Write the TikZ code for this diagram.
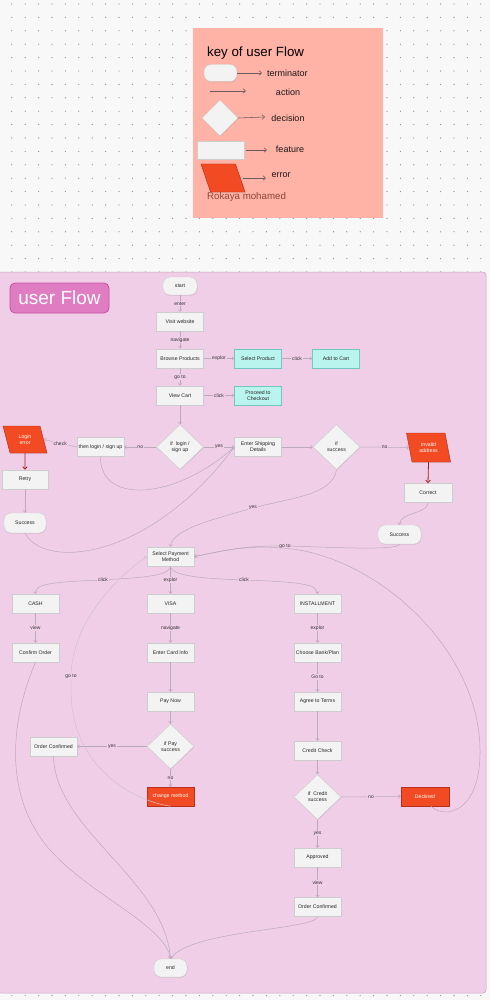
\documentclass[tikz,border=0pt]{standalone}
\usepackage{fontspec}
\setmainfont{Liberation Sans}
\usetikzlibrary{shapes.geometric,arrows.meta,shadows}
\definecolor{bgtop}{HTML}{F8F8F8}
\definecolor{dotcol}{HTML}{909090}
\definecolor{pinkbg}{HTML}{F0CEE8}
\definecolor{pinkborder}{HTML}{C9A2C0}
\definecolor{salmon}{HTML}{FFB2A5}
\definecolor{titlefill}{HTML}{E07CC2}
\definecolor{titleborder}{HTML}{C4509E}
\definecolor{nodefill}{HTML}{F3F3F3}
\definecolor{nodeborder}{HTML}{CDCDCD}
\definecolor{cyanfill}{HTML}{BAF4EF}
\definecolor{cyanborder}{HTML}{72C8C0}
\definecolor{errfill}{HTML}{F24A22}
\definecolor{errborder}{HTML}{B8301A}
\definecolor{conncol}{HTML}{BBAABA}
\definecolor{redarrow}{HTML}{A3221A}
\definecolor{keyarrow}{HTML}{6E5A5A}
\definecolor{authorcol}{HTML}{8E4438}
\begin{document}
\begin{tikzpicture}[x=1pt,y=-1pt,
  base/.style={draw=nodeborder, fill=nodefill, line width=0.45pt,
    font=\fontsize{5.2}{6.2}\selectfont, text=black!85, align=center, inner sep=1pt,
    drop shadow={shadow xshift=0.4pt, shadow yshift=-0.6pt, opacity=0.12, fill=black}},
  featbox/.style={base, rectangle, minimum width=47pt, minimum height=19pt},
  cyanbox/.style={featbox, fill=cyanfill, draw=cyanborder},
  termbox/.style={base, rectangle, rounded corners=7pt, minimum width=34pt, minimum height=18pt},
  decbox/.style={base, diamond, aspect=1, minimum width=47pt, minimum height=45pt},
  errbox/.style={featbox, fill=errfill, draw=errborder, text=white},
  parabox/.style={base, fill=errfill, draw=errborder, text=white, trapezium,
    trapezium stretches=true, trapezium left angle=106, trapezium right angle=74,
    minimum width=44pt, minimum height=28pt},
  conn/.style={draw=conncol, line width=0.5pt, -{Straight Barb[length=2pt,width=3.6pt]}},
  lbl/.style={fill=pinkbg, inner sep=0.8pt, font=\fontsize{5}{6}\selectfont, text=black!80},
  redarr/.style={draw=redarrow, line width=0.8pt, -{Straight Barb[length=2.6pt,width=4.6pt]}},
  keyarr/.style={draw=keyarrow, line width=0.55pt, -{Straight Barb[length=2.6pt,width=4.6pt]}},
  keytxt/.style={font=\fontsize{9}{10.5}\selectfont, text=black!90, inner sep=0pt}
]
\useasboundingbox (0,0) rectangle (490,1000);
\fill[bgtop] (0,0) rectangle (490,1000);
\foreach \i in {0,...,35} \foreach \j in {0,...,74}
  \fill[dotcol] (11.8+13.4*\i, 4+13.4*\j) circle (0.65);

% ---------- key ----------
\fill[salmon] (193,28) rectangle (383,218);
\node[anchor=west, inner sep=0pt, font=\fontsize{13.3}{15}\selectfont] (ktitle) at (207,53) {key of user Flow};
\node[base, rectangle, rounded corners=7pt, minimum width=33pt, minimum height=17pt] (kterm) at (220.5,73) {};
\coordinate (kterm2) at (262,73);
\draw[keyarr] (kterm.east) -- (kterm2);
\node[keytxt, anchor=west] (ktermt) at (267,73) {terminator};
\coordinate (kact1) at (210,91);
\coordinate (kact2) at (246,91);
\draw[keyarr] (kact1) -- (kact2);
\node[keytxt] (kactt) at (288,92) {action};
\node[base, diamond, aspect=1, minimum width=36pt, minimum height=36pt] (kdec) at (220,118) {};
\coordinate (kdec2) at (265,117);
\draw[keyarr] (kdec.east) -- (kdec2);
\node[keytxt] (kdect) at (288,118) {decision};
\node[base, rectangle, minimum width=47pt, minimum height=18pt] (kfeat) at (220.5,150) {};
\coordinate (kfeat1) at (246,150);
\coordinate (kfeat2) at (267,150);
\draw[keyarr] (kfeat1) -- (kfeat2);
\node[keytxt] (kfeatt) at (290,149) {feature};
\node[parabox, trapezium left angle=111, trapezium right angle=69, minimum width=44pt, minimum height=28pt] (kerr) at (223,178) {};
\coordinate (kerr1) at (243,178);
\coordinate (kerr2) at (266,178);
\draw[keyarr] (kerr1) -- (kerr2);
\node[keytxt] (kerrt) at (281,175) {error};
\node[anchor=west, inner sep=0pt, text=authorcol, font=\fontsize{9.7}{11}\selectfont] (author) at (207,197) {Rokaya mohamed};

% ---------- panel ----------
\filldraw[fill=pinkbg, draw=pinkborder, line width=0.5pt, rounded corners=3pt] (-2,272) rectangle (486,993);
\node[draw=titleborder, fill=titlefill, line width=0.8pt, rounded corners=5pt, minimum width=99pt, minimum height=30pt,
  text=white, font=\fontsize{19}{22}\selectfont, inner sep=0pt] (title) at (59.5,298) {user Flow};

% ---------- nodes ----------
\node[termbox] (start) at (180,286) {start};
\node[featbox] (visit) at (180,321.5) {Visit website};
\node[featbox] (browse) at (180,358.5) {Browse Products};
\node[cyanbox] (select) at (258,358.5) {Select Product};
\node[cyanbox] (addcart) at (336,358.5) {Add to Cart};
\node[featbox] (viewcart) at (180,395.5) {View Cart};
\node[cyanbox] (proceed) at (258,395.5) {Proceed to\\Checkout};
\node[decbox] (iflogin) at (180,447) {if\ \ login /\\sign up};
\node[featbox] (thenlogin) at (100.5,447) {then login / sign up};
\node[parabox, minimum width=44pt, minimum height=27pt] (loginerr) at (25,439.5) {Login\\error};
\node[featbox, minimum width=46pt] (retry) at (25,479.5) {Retry};
\node[termbox, minimum width=42pt, minimum height=20pt] (success1) at (25,523) {Success};
\node[featbox] (shipping) at (258,447) {Enter Shipping\\Details};
\node[decbox] (ifsuccess) at (336.5,447) {if\\success};
\node[parabox, minimum width=44pt, minimum height=29pt] (invalid) at (428.5,447.5) {Invalid\\address};
\node[featbox, minimum width=48pt] (correct) at (428,493) {Correct};
\node[termbox, minimum width=43pt, minimum height=19pt] (success2) at (399.5,534.5) {Success};
\node[featbox] (selectpay) at (170.5,556.5) {Select Payment\\Method};
\node[featbox] (cash) at (35.5,603.5) {CASH};
\node[featbox] (visa) at (170.5,603.5) {VISA};
\node[featbox] (install) at (317.5,603.5) {INSTALLMENT};
\node[featbox] (confirm) at (35.5,652.5) {Confirm Order};
\node[featbox] (cardinfo) at (170.5,652.5) {Enter Card Info};
\node[featbox] (bank) at (317.5,652.5) {Choose Bank/Plan};
\node[featbox] (paynow) at (170.5,701.5) {Pay Now};
\node[featbox] (terms) at (317.5,701.5) {Agree to Terms};
\node[decbox] (ifpay) at (170.5,746.5) {if Pay\\success};
\node[featbox] (orderconf1) at (53.5,746.5) {Order Confirmed};
\node[featbox] (credit) at (317.5,750.5) {Credit Check};
\node[errbox] (changem) at (170.5,796.5) {change method};
\node[decbox] (ifcredit) at (317.5,797) {if\ \ Credit\\success};
\node[errbox, minimum width=48pt] (declined) at (425,796.5) {Declined};
\node[featbox] (approved) at (317.5,857.5) {Approved};
\node[featbox] (orderconf2) at (317.5,907) {Order Confirmed};
\node[termbox, minimum width=33pt] (endn) at (170.5,968) {end};

% ---------- connectors ----------
\draw[conn] (start) -- node[lbl] {enter} (visit);
\draw[conn] (visit) -- node[lbl] {navigate} (browse);
\draw[conn] (browse) -- node[lbl] {explor} (select);
\draw[conn] (select) -- node[lbl] {click} (addcart);
\draw[conn] (browse) -- node[lbl] {go to} (viewcart);
\draw[conn] (viewcart) -- node[lbl] {click} (proceed);
\draw[conn] (viewcart) -- (iflogin);
\draw[conn] (iflogin) -- node[lbl] {no} (thenlogin);
\draw[conn] (thenlogin.west) -- node[lbl, pos=0.5] {check} (loginerr.east);
\draw[redarr] (loginerr.south) -- (retry.north);
\draw[conn] (retry) -- (success1);
\draw[conn] (thenlogin.south) .. controls (100,505) and (175,500) .. (shipping.west);
\draw[conn] (success1.south) .. controls (45,570) and (150,560) .. (shipping.west);
\draw[conn] (iflogin) -- node[lbl] {yes} (shipping);
\draw[conn] (shipping) -- (ifsuccess);
\draw[conn] (ifsuccess.east) -- node[lbl] {no} (invalid.west);
\draw[redarr] (invalid.south) -- (correct.north);
\draw[conn] (correct.south) .. controls (428,514) and (400,512) .. (success2.north);
\draw[conn] (ifsuccess.south) .. controls (333,495) and (290,498) .. (253,508) node[lbl] {yes}
   .. controls (210,520) and (172,530) .. (selectpay.north);
\draw[conn] (success2.south) .. controls (397,551) and (330,547) .. (285,546) node[lbl] {go to}
   .. controls (240,545) and (215,553) .. (selectpay.east);
\draw[conn] ([xshift=6pt]declined.south) .. controls (445,820) and (481,812) .. (480,750)
   .. controls (479,650) and (380,560) .. (292,549) .. controls (245,543) and (215,553) .. (selectpay.east);
\draw[conn] (selectpay.south) .. controls (170,578) and (125,578) .. (103,580) node[lbl] {click}
   .. controls (50,582) and (35,584) .. (cash.north);
\draw[conn] (selectpay) -- node[lbl] {explor} (visa);
\draw[conn] (selectpay.south) .. controls (171,578) and (220,579) .. (244,580) node[lbl] {click}
   .. controls (300,582) and (317,584) .. (install.north);
\draw[conn] (cash) -- node[lbl] {view} (confirm);
\draw[conn] (visa) -- node[lbl] {navigate} (cardinfo);
\draw[conn] (cardinfo) -- (paynow);
\draw[conn] (paynow) -- (ifpay);
\draw[conn] (ifpay.west) -- node[lbl] {yes} (orderconf1.east);
\draw[conn] (ifpay.south) -- node[lbl] {no} (changem.north);
\draw[conn] (install) -- node[lbl] {explor} (bank);
\draw[conn] (bank) -- node[lbl] {Go to} (terms);
\draw[conn] (terms) -- (credit);
\draw[conn] (credit) -- (ifcredit);
\draw[conn] (ifcredit.east) -- node[lbl] {no} (declined.west);
\draw[conn] (ifcredit.south) -- node[lbl] {yes} (approved.north);
\draw[conn] (approved) -- node[lbl] {view} (orderconf2);
\draw[conn] (confirm.south) .. controls (15,710) and (-2,790) .. (50,850)
   .. controls (90,895) and (165,925) .. (endn.north);
\draw[conn] (orderconf1.south) .. controls (55,830) and (165,880) .. (endn.north);
\draw[conn] (orderconf2.south) .. controls (315,930) and (190,930) .. (endn.north);
\draw[conn, draw=conncol!70!white] (changem.south) .. controls (130,800) and (71,765) .. (71,690)
   .. controls (71,682) and (71,680) .. (71,676) node[lbl] {go to}
   .. controls (72,620) and (120,575) .. (selectpay.west);
\end{tikzpicture}
\end{document}
